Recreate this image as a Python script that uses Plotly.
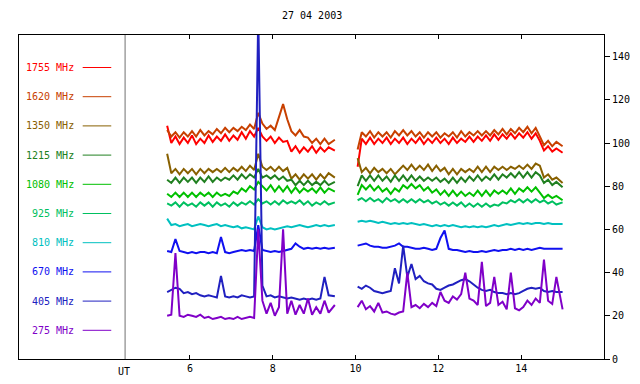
import plotly.graph_objects as go

# ---- data -------------------------------------------------------------
times_a = [5.45, 5.55, 5.65, 5.75, 5.85, 5.95, 6.05, 6.15, 6.25, 6.35, 6.45,
           6.55, 6.65, 6.75, 6.85, 6.95, 7.05, 7.15, 7.25, 7.35, 7.45, 7.55,
           7.65, 7.75, 7.85, 7.95, 8.05, 8.15, 8.25, 8.35, 8.45, 8.55, 8.65,
           8.75, 8.85, 8.95, 9.05, 9.15, 9.25, 9.35, 9.5]
times_b = [10.05, 10.15, 10.25, 10.35, 10.45, 10.55, 10.65, 10.75, 10.85, 10.95,
           11.05, 11.15, 11.25, 11.35, 11.45, 11.55, 11.65, 11.75, 11.85, 11.95,
           12.05, 12.15, 12.25, 12.35, 12.45, 12.55, 12.65, 12.75, 12.85, 12.95,
           13.05, 13.15, 13.25, 13.35, 13.45, 13.55, 13.65, 13.75, 13.85, 13.95,
           14.05, 14.15, 14.25, 14.35, 14.45, 14.55, 14.65, 14.75, 14.85, 15.0]

f1755_a = [108, 100, 103, 99.5, 102.5, 100, 103.5, 99.5, 102, 100, 103.5, 100.5, 103, 101, 104, 101, 103.5, 101.5, 105, 102, 105.5, 103, 107, 103, 101, 103, 100, 102.5, 100.5, 101, 96, 98.5, 95.5, 98, 96, 98.5, 95.5, 98, 96, 98, 96.5]
f1755_b = [89, 102, 99.5, 102.5, 99.5, 102, 100, 102.5, 99.5, 102, 100, 102.5, 99.5, 102, 100, 102.5, 99.5, 102, 100, 102.5, 100, 102, 99.5, 102.5, 100, 102, 100.5, 103, 100.5, 103, 101, 103.5, 101, 104, 101.5, 104, 102, 104.5, 102, 104.5, 102.5, 105, 102, 104.5, 101, 96.5, 98.5, 96, 97.5, 95.5]

f1620_a = [106, 103, 105, 102.5, 105, 103, 105.5, 103, 106, 103.5, 105.5, 104, 106.5, 104.5, 107, 105, 107, 105.5, 107.5, 106, 108.5, 106.5, 114, 109, 106.5, 108, 106, 112, 118, 111, 105.5, 103.5, 106, 103, 102.5, 100, 102, 99.5, 102, 99.5, 101.5]
f1620_b = [97, 105, 103, 105.5, 102.5, 105, 103, 105, 102.5, 105.5, 103.5, 106, 103.5, 105.5, 103, 105, 102.5, 105, 103, 105, 102.5, 104.5, 103, 105, 102.5, 105.5, 103, 105, 103.5, 105.5, 103.5, 105.5, 103.5, 106, 104, 106.5, 104, 106.5, 104.5, 107, 105, 107.5, 104.5, 107, 103, 99, 101, 98.5, 100.5, 98.5]

f1350_a = [95, 86, 88, 85.5, 88, 86, 88, 85.5, 88, 86, 88, 86.5, 88, 86.5, 88.5, 86.5, 88.5, 87, 89, 87, 89.5, 87.5, 95, 89, 87.5, 89, 87, 89, 87, 88.5, 83.5, 85.5, 83, 85.5, 83.5, 85.5, 83, 85.5, 83.5, 86, 84]
f1350_b = [93, 86.5, 88.5, 86, 88.5, 86.5, 88, 86, 88, 85.5, 87.5, 89.5, 87.5, 90, 87.5, 89.5, 87.5, 90, 87, 89.5, 87, 88.5, 85.5, 88, 85.5, 88, 86.5, 88, 86.5, 89, 86.5, 89, 86.5, 89, 87.5, 89, 87.5, 89, 88, 89.5, 88, 90, 88, 90.5, 89.5, 84, 85.5, 83, 84, 81.5]

f1215_a = [83, 81.5, 84, 81.5, 84, 82, 84, 81.5, 84, 82, 84.5, 82, 84, 82.5, 84, 83, 85, 83, 85.5, 83.5, 85.5, 84, 88, 84, 85, 83.5, 85, 83, 84.5, 82.5, 83, 80.5, 82.5, 80.5, 82.5, 80.5, 82, 80.5, 82.5, 80.5, 82]
f1215_b = [80, 85, 82.5, 85, 82.5, 85, 82.5, 84.5, 82, 85, 82.5, 85, 82.5, 85, 82.5, 84.5, 82.5, 84, 82.5, 84, 82, 83.5, 81.5, 84, 81.5, 84, 82, 84.5, 82.5, 85, 82.5, 84.5, 83, 85.5, 83, 85.5, 84, 86, 84, 86.5, 84, 86.5, 84, 86.5, 85, 81.5, 83, 80.5, 82, 79.5]

f1080_a = [76.5, 75, 77, 75, 77, 75, 77, 75, 77, 75.5, 77, 75, 77, 75.5, 76.5, 75.5, 77.5, 76.5, 79, 77.5, 80, 78.5, 82, 80, 78, 80.5, 77.5, 80, 77.5, 80, 77, 79.5, 77, 79, 77.5, 79, 77, 79.5, 77, 79, 77.5]
f1080_b = [76, 80.5, 78.5, 80.5, 78, 80, 77.5, 79, 76.5, 79, 77.5, 80.5, 79, 81, 79, 80.5, 78, 79.5, 77, 78.5, 76, 78, 75.5, 78, 75.5, 77.5, 75.5, 77, 75.5, 78, 75.5, 78, 75.5, 78, 76.5, 78, 76.5, 79, 76.5, 79, 77.5, 79.5, 77.5, 79.5, 77, 74.5, 76, 74.5, 75.5, 73.5]

f925_a = [72, 71, 72.5, 70.5, 72.5, 71, 72, 70.5, 72.5, 71, 72.5, 70.5, 72.5, 71, 72, 70.5, 72.5, 71, 72.5, 71.5, 73, 71.5, 74, 72, 73, 71.5, 73, 71.5, 73.5, 72, 73, 72, 73.5, 71.5, 73, 71, 72.5, 71.5, 73, 71.5, 72.5]
f925_b = [73.5, 74.5, 73, 74.5, 73, 74, 72.5, 74.5, 73, 74, 72.5, 74, 72.5, 74, 72.5, 74, 72.5, 73.5, 72, 73, 71.5, 72.5, 71, 72.5, 71, 72.5, 70.5, 72, 70.5, 72, 70.5, 72, 70.5, 71.5, 71, 72.5, 72, 73.5, 72.5, 74, 72.5, 74, 72.5, 74, 72.5, 73.5, 72, 73, 71.5, 72.5]

f810_a = [65, 62, 62.5, 61.5, 62, 62.5, 61.5, 62, 62.5, 62, 61.5, 62, 62.5, 61.5, 62, 61.5, 61, 61.5, 60.5, 61, 60.5, 60, 66, 61, 60, 60.5, 60, 60.5, 61, 61.5, 61, 61.5, 62, 61.5, 61, 61.5, 62, 61.5, 62, 61.5, 62]
f810_b = [63.5, 64, 63.5, 64, 63.5, 63, 63.5, 63, 62.5, 63, 62.5, 63, 62.5, 63, 62.5, 62, 62.5, 62, 61.5, 62, 61.5, 62, 61.5, 62, 61.5, 61, 61.5, 61, 61.5, 61, 61.5, 61, 61.5, 62, 61.5, 62, 62.5, 62, 62.5, 63, 62.5, 63, 62.5, 63, 63, 62.5, 63, 62.5, 62.5, 62.5]

f670_a = [50, 49.5, 55.5, 50, 49.5, 49, 49.5, 49, 49.5, 49.5, 49, 49.5, 49, 56.5, 49.5, 49, 49.5, 50, 50.5, 50, 50.5, 50, 62, 50.5, 50, 49.5, 50, 49.5, 50, 50.5, 51, 53.5, 52, 51, 51.5, 51, 51.5, 51, 51.5, 51, 51.5]
f670_b = [52.5, 53, 53.5, 52.5, 52, 52, 51.5, 51.5, 52, 52.5, 53.5, 52, 52, 51.5, 51, 51, 51.5, 51, 50.5, 51, 56, 59.5, 51, 50.5, 50.5, 50, 49.5, 50, 49.5, 49.5, 50, 49.5, 50, 50.5, 50, 50.5, 50.5, 51, 50.5, 51, 50.5, 51, 50.5, 51, 51.5, 51, 51, 51, 51, 51]

f405_a = [31, 32, 33, 32.5, 30.5, 31, 30, 30.5, 29.5, 29, 29.5, 29, 28.5, 38.5, 29, 28.5, 29, 28.5, 29.5, 29, 28.5, 29, 160, 34, 29, 29.5, 28.5, 29, 28.5, 28, 28.5, 28, 27.5, 28, 27.5, 28, 27.5, 28, 38, 29.5, 29]
f405_b = [33.5, 32.5, 34, 33, 31.5, 31, 30.5, 31, 31.5, 42, 35, 52.5, 38, 44, 37, 38.5, 36, 35, 34.5, 32.5, 32, 33, 34, 34.5, 35.5, 36.5, 37, 36, 34.5, 33, 32, 31.5, 32, 31, 30.5, 30.5, 30, 30.5, 30, 30.5, 31.5, 32.5, 33, 32.5, 33, 31.5, 31, 31.5, 31, 31]

f275_a = [20, 20.5, 49, 20, 19.5, 20.5, 20, 19.5, 20.5, 19, 19.5, 18.5, 19, 19.5, 18.5, 19, 18.5, 19.5, 18.5, 19, 19.5, 19, 60, 27, 21, 26, 20, 24, 60, 21, 27, 20.5, 25, 21, 28, 20.5, 24, 21, 27, 21.5, 25]
f275_b = [24, 27, 23, 24.5, 22, 26, 21.5, 22, 21, 20.5, 21.5, 22, 40, 24, 25, 23.5, 25.5, 24, 26, 24.5, 31, 27, 26, 29, 27.5, 30, 40, 28, 27, 25, 45, 24.5, 26, 38, 25, 26.5, 23, 40, 23.5, 22.5, 24, 27, 25, 28, 26, 46, 27, 25.5, 38, 23]

labels = ["1755 MHz", "1620 MHz", "1350 MHz", "1215 MHz", "1080 MHz",
          "925 MHz", "810 MHz", "670 MHz", "405 MHz", "275 MHz"]
series_a = [f1755_a, f1620_a, f1350_a, f1215_a, f1080_a, f925_a, f810_a, f670_a, f405_a, f275_a]
series_b = [f1755_b, f1620_b, f1350_b, f1215_b, f1080_b, f925_b, f810_b, f670_b, f405_b, f275_b]

x_ticks = [6, 8, 10, 12, 14]
y_ticks = [0, 20, 40, 60, 80, 100, 120, 140]
title_text = "27 04 2003"

# ---- style ------------------------------------------------------------
colors = ["#ff0000", "#c84000", "#886000", "#208020", "#00c000",
          "#00c060", "#00c0c0", "#1010f0", "#2020c0", "#8000c8"]
FONT = "DejaVu Sans Mono"

for a in series_a:
    assert len(a) == len(times_a)
for b in series_b:
    assert len(b) == len(times_b)

fig = go.Figure()
for lab, col, a, b in zip(labels, colors, series_a, series_b):
    fig.add_trace(go.Scatter(
        x=times_a + [None] + times_b,
        y=a + [None] + b,
        mode="lines", line=dict(color=col, width=2),
        name=lab, connectgaps=False, hoverinfo="skip"))

# plot area (in the screenshot) spans y 35..359 -> 324 px tall
def paper_y(py):
    return (359 - py) / 324.0

annotations = []
shapes = []
for i, (lab, col) in enumerate(zip(labels, colors)):
    py = 67.5 + 29.2 * i
    annotations.append(dict(
        x=3.25, y=paper_y(py), xref="x", yref="paper", xanchor="right",
        yanchor="middle", text=lab, showarrow=False,
        font=dict(family=FONT, size=10, color=col)))
    shapes.append(dict(
        type="line", xref="x", yref="paper", x0=3.41, x1=4.10,
        y0=paper_y(py), y1=paper_y(py), line=dict(color=col, width=1)))

# UT marker
shapes.append(dict(type="line", xref="x", yref="paper", x0=4.434, x1=4.434,
                   y0=0, y1=1, line=dict(color="#707070", width=1)))
annotations.append(dict(x=4.40, y=paper_y(371), xref="x", yref="paper",
                        text="UT", showarrow=False, xanchor="center", yanchor="middle",
                        font=dict(family=FONT, size=10, color="black")))
annotations.append(dict(x=0.5, y=paper_y(16), xref="paper", yref="paper",
                        text=title_text, showarrow=False, xanchor="center", yanchor="middle",
                        font=dict(family=FONT, size=10, color="black")))

fig.update_layout(
    width=632, height=376,
    margin=dict(l=10, r=28, t=27, b=25, pad=0),
    plot_bgcolor="white", paper_bgcolor="white",
    showlegend=False,
    font=dict(family=FONT, size=10, color="black"),
    annotations=annotations, shapes=shapes,
    xaxis=dict(range=[1.872, 16.0], tickvals=x_ticks, ticks="inside", ticklen=4,
               tickcolor="black", showline=True, linecolor="black", linewidth=1,
               mirror="ticks", showgrid=False, zeroline=False,
               tickfont=dict(family=FONT, size=10, color="black")),
    yaxis=dict(range=[0, 150], tickvals=y_ticks, side="right", ticks="outside",
               ticklen=5, tickcolor="black", showline=True, linecolor="black",
               linewidth=1, mirror=True, showgrid=False, zeroline=False,
               tickfont=dict(family=FONT, size=10, color="black")),
)

fig.write_html("out.html")
